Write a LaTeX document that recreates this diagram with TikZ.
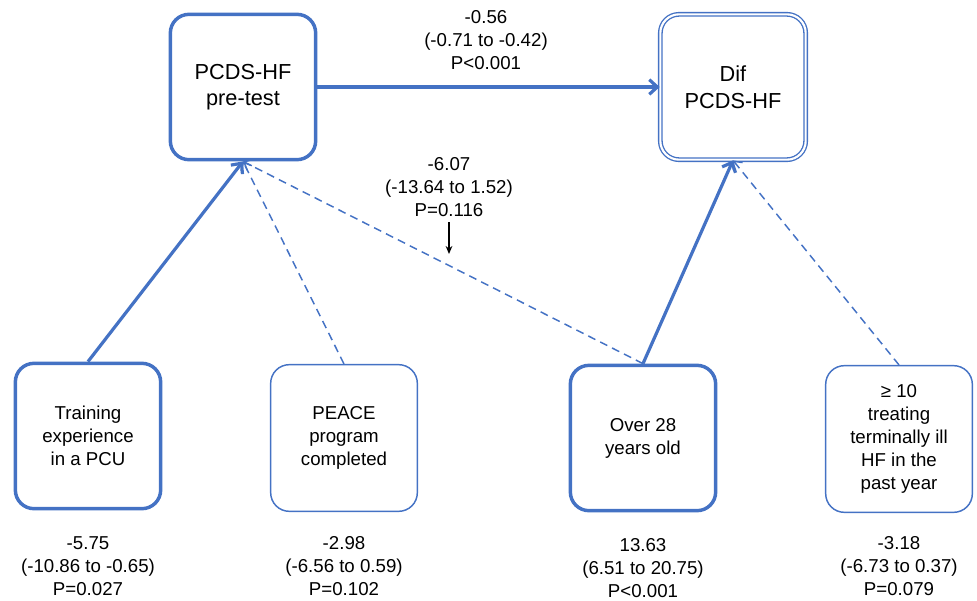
\documentclass[tikz,border=0pt]{standalone}
\usepackage{fontspec}
\setmainfont{Liberation Sans}
\usetikzlibrary{arrows.meta,positioning}
\definecolor{pathblue}{RGB}{68,114,196}

\begin{document}
\begin{tikzpicture}[x=0.75pt,y=-0.75pt,
 mainbox/.style={draw=pathblue,line width=2.6pt,rounded corners=14pt,minimum width=109pt,minimum height=109pt,inner sep=0pt,align=center,font=\fontsize{16.3}{20}\selectfont},
 dblbox/.style={draw=pathblue,double=white,double distance=1.6pt,line width=1pt,rounded corners=14pt,minimum width=109pt,minimum height=109pt,inner sep=0pt,align=center,font=\fontsize{16.3}{20}\selectfont},
 strongbox/.style={draw=pathblue,line width=2.6pt,rounded corners=14pt,minimum width=109pt,minimum height=109pt,inner sep=0pt,align=center,font=\fontsize{14}{17.3}\selectfont},
 weakbox/.style={draw=pathblue,line width=1.1pt,rounded corners=14pt,minimum width=110pt,minimum height=110pt,inner sep=0pt,align=center,font=\fontsize{14}{17.3}\selectfont},
 estlab/.style={align=center,inner sep=0pt,font=\fontsize{14}{17.3}\selectfont},
 sigpath/.style={draw=pathblue,line width=2.4pt,-{Straight Barb[length=6pt,width=11pt]}},
 nspath/.style={draw=pathblue,line width=1.1pt,dash pattern=on 6pt off 4pt,-{Straight Barb[length=5pt,width=9pt]}}]
\useasboundingbox (0,0) rectangle (977,600);

% outcomes
\node[mainbox] (pre) at (243,87) {PCDS-HF\\pre-test};
\node[dblbox] (dif) at (733,87) {Dif\\PCDS-HF};

% predictors
\node[strongbox] (train) at (88,436) {Training\\experience\\in a PCU};
\node[weakbox] (peace) at (344,438) {PEACE\\program\\completed};
\node[strongbox] (over) at (643,438) {Over 28\\years old};
\node[weakbox] (treat) at (899,439) {≥ 10\\treating\\terminally ill\\HF in the\\past year};

% paths
\draw[sigpath] (pre) -- (dif);
\draw[sigpath] (train.north) -- (pre.south);
\draw[nspath] (peace.north) -- (pre.south);
\draw[nspath] (over.north) -- (pre.south);
\draw[sigpath] (over.north) -- (dif.south);
\draw[nspath] (treat.north) -- (dif.south);

% estimates
\node[estlab] (toplab) at (486,40) {-0.56\\(-0.71 to -0.42)\\P<0.001};
\node[estlab] (midlab) at (449,187) {-6.07\\(-13.64 to 1.52)\\P=0.116};
\coordinate (midtip) at (449,254);
\draw[black,line width=0.9pt,-{Stealth[length=6pt,width=5pt]},shorten <=4pt] (midlab.south) -- (midtip);
\node[estlab] (trainlab) at (88,566) {-5.75\\(-10.86 to -0.65)\\P=0.027};
\node[estlab] (peacelab) at (344,566) {-2.98\\(-6.56 to 0.59)\\P=0.102};
\node[estlab] (overlab) at (643,568) {13.63\\(6.51 to 20.75)\\P<0.001};
\node[estlab] (treatlab) at (899,566) {-3.18\\(-6.73 to 0.37)\\P=0.079};
\end{tikzpicture}
\end{document}
